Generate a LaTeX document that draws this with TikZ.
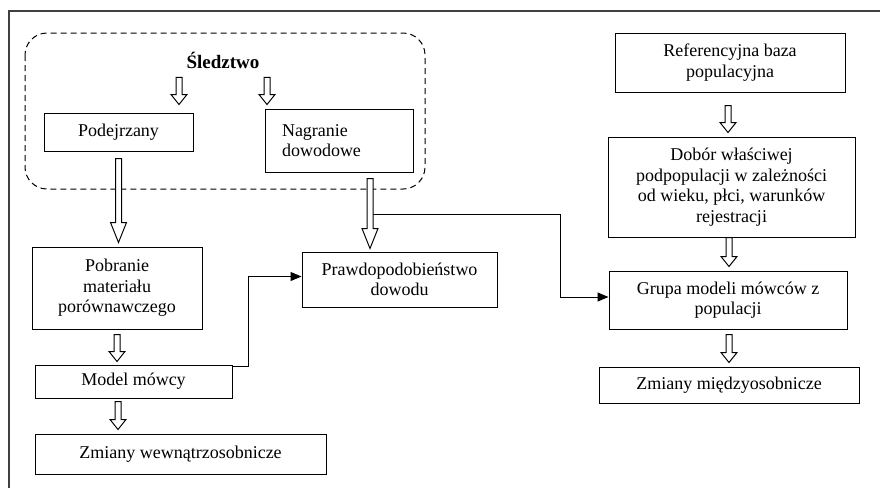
\documentclass[tikz,border=0pt]{standalone}
\usepackage{fontspec}
\setmainfont{Liberation Serif}
\usetikzlibrary{arrows.meta,calc}

% hollow block arrow: x from the start point, y from the end point
\newcommand{\blockarrow}[3][10pt]{%
  \draw[hollow] let \p1=#2, \p2=#3 in
    (\x1-3pt,\y1) -- (\x1-3pt,\y2+#1) -- (\x1-8pt,\y2+#1) -- (\x1,\y2)
    -- (\x1+8pt,\y2+#1) -- (\x1+3pt,\y2+#1) -- (\x1+3pt,\y1) -- cycle;}

\begin{document}
\begin{tikzpicture}[x=1pt, y=-1pt,
  box/.style={draw, line width=1pt, align=center, inner sep=0pt,
    font=\fontsize{18}{20.5}\selectfont},
  hollow/.style={draw, line width=1pt, fill=white},
  link/.style={line width=1pt, -{Triangle[length=11pt,width=9pt]}}]
\useasboundingbox (0,0) rectangle (880,488);
\draw[line width=1.5pt, black!75] (8,11) -- (880,11) (9,11) -- (9,488);
\draw[dash pattern=on 6pt off 4pt, line width=1pt, rounded corners=22pt] (25,33) rectangle (425,189);
\node[inner sep=0pt, font=\fontsize{19}{22}\selectfont\bfseries] (P_top) at (223,60) {Śledztwo};
\node[box, minimum width=149pt, minimum height=38pt] (P_0_0) at (118.5,132) {Podejrzany};
\blockarrow{([xshift=-44pt,yshift=-9pt]P_top.south)}{([yshift=8pt]P_0_0.north)}
\node[box, align=left, text width=114pt, inner xsep=17pt, minimum height=63pt] (P_1_0) at (339,140.5) {Nagranie\\dowodowe};
\blockarrow{([xshift=44pt,yshift=-9pt]P_top.south)}{([yshift=4pt]P_1_0.north)}
\node[box, minimum width=170pt, minimum height=82pt] (P_0_1) at (117,288) {Pobranie\\materiału\\porównawczego};
\blockarrow[20pt]{([yshift=-7pt]P_0_0.south)}{([yshift=4pt]P_0_1.north)}
\node[box, minimum width=197pt, minimum height=33pt] (P_0_2) at (133.5,381.5) {Model mówcy};
\blockarrow{([yshift=-5pt]P_0_1.south)}{([yshift=3pt]P_0_2.north)}
\node[box, minimum width=291pt, minimum height=40pt] (P_0_3) at (180.5,454) {Zmiany wewnątrzosobnicze};
\blockarrow{([xshift=-15.5pt,yshift=-3pt]P_0_2.south)}{([yshift=4pt]P_0_3.north)}
\node[box, minimum width=195pt, minimum height=55pt] (P_1_1) at (399.5,279.5) {Prawdopodobieństwo\\dowodu};
\draw[link] ([yshift=-2pt]P_0_2.north east) -- ++(16,0) |- ([yshift=3pt]P_1_1.west);
\node[box, minimum width=230pt, minimum height=59pt] (P_2_0) at (730,62.5) {Referencyjna baza\\populacyjna};
\node[box, minimum width=247pt, minimum height=100pt] (P_2_1) at (731.5,187) {Dobór właściwej\\podpopulacji w zależności\\od wieku, płci, warunków\\rejestracji};
\blockarrow{([xshift=-2pt,yshift=-13pt]P_2_0.south)}{([yshift=4pt]P_2_1.north)}
\node[box, minimum width=238pt, minimum height=58pt] (P_2_2) at (728,300) {Grupa modeli mówców z\\populacji};
\blockarrow{([xshift=-2.5pt]P_2_1.south)}{([yshift=4pt]P_2_2.north)}
\node[box, minimum width=260pt, minimum height=36pt] (P_2_3) at (729,385) {Zmiany międzyosobnicze};
\blockarrow{([xshift=1pt,yshift=-5pt]P_2_2.south)}{([yshift=4pt]P_2_3.north)}
\coordinate (tap) at ($(P_1_0.south)+(34,42)$);
\draw[link] (tap) -- ++(187,0) |- ([yshift=3pt]P_2_2.west);
\blockarrow[20pt]{([xshift=31pt,yshift=-6pt]P_1_0.south)}{([yshift=3pt]P_1_1.north)}
\end{tikzpicture}
\end{document}
